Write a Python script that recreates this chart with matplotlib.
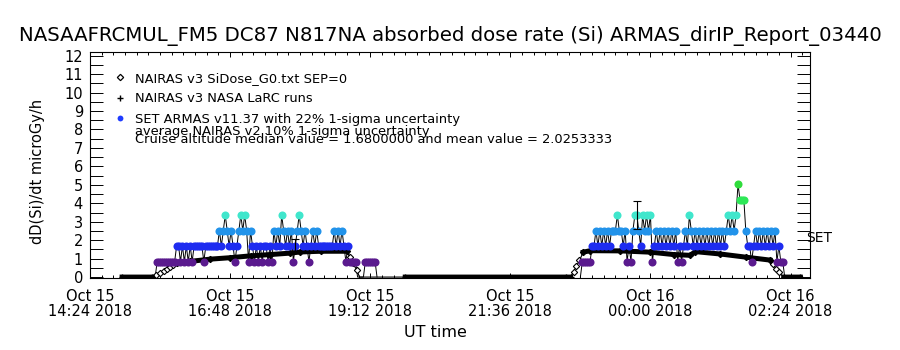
"""ARMAS vs NAIRAS absorbed dose rate, flight report 03440"""

import datetime as dt
import numpy as np
import matplotlib
matplotlib.use('Agg')
import matplotlib.pyplot as plt
import matplotlib.dates as mdates
import matplotlib.transforms as mtransforms
from matplotlib.ticker import MultipleLocator, FixedLocator, FormatStrFormatter
from matplotlib.lines import Line2D

TITLE = 'NASAAFRCMUL_FM5 DC87 N817NA absorbed dose rate (Si) ARMAS_dirIP_Report_03440'

# NAIRAS model along the track ('day hh:mm', microGy/h)
nairas_time = ['15 14:57', '15 15:28', '15 15:32', '15 15:36', '15 15:40', '15 15:43',
               '15 15:46', '15 15:49', '15 15:53', '15 16:07', '15 16:27', '15 16:48',
               '15 17:09', '15 17:29', '15 17:50', '15 18:00', '15 18:21', '15 18:48',
               '15 18:51', '15 18:54', '15 18:58', '15 19:01', '15 19:48', '15 22:33',
               '15 22:38', '15 22:41', '15 22:44', '15 22:47', '15 22:51', '15 22:58',
               '15 23:29', '16 00:00', '16 00:24', '16 00:41', '16 00:46', '16 01:12',
               '16 01:38', '16 02:03', '16 02:06', '16 02:09', '16 02:12', '16 02:17',
               '16 02:34']
nairas_dose = [0.0, 0.0, 0.1, 0.2, 0.35, 0.45,
               0.55, 0.65, 0.76, 0.85, 0.97, 1.05,
               1.15, 1.22, 1.30, 1.36, 1.40, 1.40,
               1.10, 0.75, 0.40, 0.0, 0.0, 0.0,
               0.0, 0.30, 0.60, 0.90, 1.35, 1.43,
               1.42, 1.35, 1.22, 1.18, 1.38, 1.25,
               1.08, 0.92, 0.70, 0.45, 0.25, 0.0,
               0.0]
# ascent / descent windows, drawn with the diamonds only
ramp_windows = [('15 15:28', '15 15:53'), ('15 18:48', '15 19:48'),
                ('15 22:38', '15 22:51'), ('16 02:03', '16 02:17')]

# ARMAS dose is quantised; codes index armas_levels, 2 minute cadence
armas_levels = [0.0, 0.84, 1.68, 2.52, 3.36, 4.20, 5.04]
armas_colors = [None, '#5a1a8e', '#1e2cf0', '#2293ea', '#40e6cc', '#2ee858', '#30dc3c']
armas_step_min = 2
armas1_start = '15 15:31'
armas1_codes = ('0' '1111111111' '2212121212' '2222122222' '2232343232' '1234343132'
                '1212122121' '3232432323' '1234323212' '3232222222' '2323232121'
                '1110000111' '1110')
armas2_start = '15 22:48'
armas2_codes = ('01111122323' '2323233343' '3231213443' '2434341232' '3232323231'
                '2123243232' '3232323232' '3232343434' '6555322123' '2323232323'
                '12110')
armas1_err_index = 72
armas2_err_index = 29
armas_sigma = 0.22

median_value = 1.6800000
mean_value = 2.0253333

x_ticks = ['15 14:24', '15 16:48', '15 19:12', '15 21:36', '16 00:00', '16 02:24']
x_range = ('15 14:24', '16 02:44')
y_range = (-0.05, 12.2)


def stamp(s):
    day, hm = s.split()
    h, m = hm.split(':')
    return dt.datetime(2018, 10, int(day), int(h), int(m))


def armas_series(start, codes):
    t0 = stamp(start)
    times = [t0 + dt.timedelta(minutes=armas_step_min * i) for i in range(len(codes))]
    codes = np.array([int(c) for c in codes])
    return np.array(times), codes


def plot_armas(ax, times, codes, err_index):
    values = np.array(armas_levels)[codes]
    ax.plot(times, values, color='k', lw=0.7, zorder=2)
    for lev in range(1, len(armas_levels)):
        sel = codes == lev
        ax.plot(times[sel], values[sel], ls='none', marker='o', ms=5.8, mew=0,
                color=armas_colors[lev], zorder=4)
    v = values[err_index]
    ax.errorbar([times[err_index]], [v], yerr=[armas_sigma * v], fmt='none',
                ecolor='k', elinewidth=0.8, capsize=3, capthick=0.8, zorder=5)


plt.rcParams['font.family'] = 'DejaVu Sans'

fig = plt.figure(figsize=(9, 3.5), dpi=100)
ax = fig.add_axes([0.1, 72 / 350, 0.8, 226 / 350])

n_time = np.array([stamp(s) for s in nairas_time])
n_dose = np.array(nairas_dose, dtype=float)

# LaRC runs: same track without the ramp interiors
larc = n_dose.copy()
for a, b in ramp_windows:
    inside = (n_time > stamp(a)) & (n_time < stamp(b))
    larc[inside] = np.nan

airborne = list(np.nonzero(n_dose > 0)[0])
ax.plot(n_time, n_dose, color='k', lw=0.8, marker='D', ms=3.2, mfc='white',
        mec='k', mew=0.8, markevery=airborne, zorder=2.5)
ax.plot(n_time, larc, color='k', lw=3.6, marker='+', ms=5, mew=1, zorder=3)

t1, c1 = armas_series(armas1_start, armas1_codes)
t2, c2 = armas_series(armas2_start, armas2_codes)
plot_armas(ax, t1, c1, armas1_err_index)
plot_armas(ax, t2, c2, armas2_err_index)

ax.set_xlim(stamp(x_range[0]), stamp(x_range[1]))
ax.set_ylim(*y_range)

ax.xaxis.set_major_locator(FixedLocator(mdates.date2num([stamp(s) for s in x_ticks])))
ax.xaxis.set_major_formatter(mdates.DateFormatter('%b %d\n%H:%M %Y'))
ax.xaxis.set_minor_locator(mdates.MinuteLocator(byminute=range(0, 60, 12)))
ax.yaxis.set_major_locator(MultipleLocator(1))
ax.yaxis.set_minor_locator(MultipleLocator(0.5))
ax.yaxis.set_major_formatter(FormatStrFormatter('%d'))

ax.tick_params(axis='y', which='both', direction='in', length=9.4, width=0.7,
               right=True, labelsize=10.5, pad=5)
ax.tick_params(axis='x', which='major', direction='in', length=3.5, width=0.7,
               top=True, labelsize=10.5, pad=8)
ax.tick_params(axis='x', which='minor', direction='in', length=2, width=0.7, top=True)
for lab in ax.get_xticklabels():
    lab.set_linespacing(1.0)
for sp in ax.spines.values():
    sp.set_linewidth(0.8)

ax.set_ylabel('dD(Si)/dt microGy/h', fontsize=10.5)
ax.yaxis.set_label_coords(-0.0625, 0.47)
ax.set_xlabel('UT time', fontsize=11.5)
ax.xaxis.set_label_coords(0.48, -0.21)

handles = [Line2D([], [], ls='none', marker='D', ms=3.2, mfc='white', mec='k', mew=0.9),
           Line2D([], [], ls='none', marker='+', ms=5, color='k', mew=1),
           Line2D([], [], ls='none', marker='o', ms=4.2, color='#1f3cff', mew=0)]
labels = ['NAIRAS v3 SiDose_G0.txt SEP=0', 'NAIRAS v3 NASA LaRC runs',
          'SET ARMAS v11.37 with 22% 1-sigma uncertainty']
ax.legend(handles, labels, loc='upper left', bbox_to_anchor=(0.036, 0.912),
          frameon=False, fontsize=9.4, handlelength=0.6, handletextpad=0.85,
          labelspacing=0.57, borderaxespad=0, borderpad=0)
ax.text(0.0625, 0.650, 'average NAIRAS v2 10% 1-sigma uncertainty',
        transform=ax.transAxes, fontsize=9.4, va='center')
ax.text(0.0625, 0.614, 'Cruise altitude median value = %.7f and mean value = %.7f'
        % (median_value, mean_value), transform=ax.transAxes, fontsize=9.4, va='center')

trans = mtransforms.blended_transform_factory(ax.transAxes, ax.transData)
ax.annotate('SET', xy=(1.0, mean_value), xycoords=trans, xytext=(-3, 1.5),
            textcoords='offset points', fontsize=10, va='center', ha='left',
            annotation_clip=False)

fig.text(0.5, 1 - 36 / 350, TITLE, ha='center', va='center', fontsize=14.2)

fig.savefig('out.png', dpi=100)
